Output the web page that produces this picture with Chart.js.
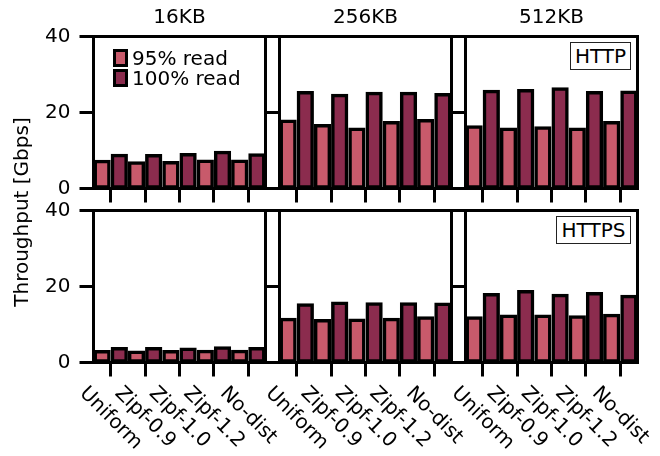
<!DOCTYPE html>
<html>
<head>
<meta charset="utf-8">
<script src="https://cdn.jsdelivr.net/npm/chart.js@4/dist/chart.umd.min.js"></script>
<style>
  html, body { margin: 0; padding: 0; background: #fff; }
  #fig { position: relative; width: 660px; height: 456px; overflow: hidden;
         font-family: "DejaVu Sans", sans-serif; color: #000; }
  #fig canvas { position: absolute; left: 0; top: 0; }
  .txt { position: absolute; font-size: 20px; line-height: 20px; white-space: nowrap; }
  .swatch { position: absolute; width: 9px; height: 12px; border: 3px solid #000; }
  .tag { position: absolute; box-sizing: border-box; height: 28px; border: 1px solid #222;
         font-size: 20px; line-height: 26px; text-align: center; background: #fff; }
  #ytitle { position: absolute; width: 300px; text-align: center; font-size: 20px; line-height: 20px;
            transform: rotate(-90deg); transform-origin: 50% 50%; }
</style>
</head>
<body>
<div id="fig"></div>
<script>
// ---- data ----
const categories = ['Uniform', 'Zipf-0.9', 'Zipf-1.0', 'Zipf-1.2', 'No-dist'];
const objectSizes = ['16KB', '256KB', '512KB'];
const protocols = ['HTTP', 'HTTPS'];
const seriesNames = ['95% read', '100% read'];
const yTickValues = [0, 20, 40];

// throughput in Gbps, HTTP
const http16Read95  = [7.1, 6.7, 6.8, 7.2, 7.2];
const http16Read100 = [8.7, 8.6, 8.9, 9.5, 8.8];
const http256Read95  = [17.7, 16.5, 15.6, 17.3, 17.8];
const http256Read100 = [25.2, 24.5, 25.0, 25.0, 24.7];
const http512Read95  = [16.2, 15.6, 15.9, 15.6, 17.3];
const http512Read100 = [25.5, 25.7, 26.2, 25.2, 25.3];

// throughput in Gbps, HTTPS
const https16Read95  = [2.8, 2.7, 2.8, 2.9, 2.9];
const https16Read100 = [3.6, 3.6, 3.5, 3.8, 3.6];
const https256Read95  = [11.3, 11.0, 11.1, 11.3, 11.7];
const https256Read100 = [15.1, 15.6, 15.4, 15.4, 15.3];
const https512Read95  = [11.7, 12.2, 12.2, 12.0, 12.4];
const https512Read100 = [17.8, 18.6, 17.6, 18.1, 17.4];

// ---- styling / layout ----
const FONT = '"DejaVu Sans"';
const seriesColors = ['#c85a6b', '#8b2c4e'];
const W = 660, H = 456;
const colLeft = [93.5, 279.5, 465.5];
const rowTop = [36.5, 210.5];
const panelW = 172, panelH = 152;
const TICK = 14;
const EDGE = 3.5;

const fig = document.getElementById('fig');

// black frame around each panel, drawn over the bars
const framePlugin = {
  id: 'panelFrame',
  afterDatasetsDraw(chart) {
    const { left, top, width, height } = chart.chartArea;
    const ctx = chart.ctx;
    ctx.save();
    ctx.lineWidth = 3;
    ctx.strokeStyle = '#000';
    ctx.strokeRect(left, top, width, height);
    ctx.restore();
  }
};

// category labels slanted 45 degrees downwards, centred under each tick
const slantedLabels = {
  id: 'slantedLabels',
  afterDraw(chart) {
    const xs = chart.scales.x;
    const ctx = chart.ctx;
    ctx.save();
    ctx.font = '20px ' + FONT;
    ctx.fillStyle = '#000';
    ctx.textAlign = 'center';
    ctx.textBaseline = 'middle';
    const top = chart.chartArea.bottom + 19.5;
    const boxH = 20 * 1.164;
    xs.getLabels().forEach((txt, i) => {
      const x = xs.getPixelForTick(i);
      const w = ctx.measureText(txt).width;
      const cy = top + (w + boxH) * Math.SQRT1_2 / 2;
      ctx.save();
      ctx.translate(x, cy);
      ctx.rotate(Math.PI / 4);
      ctx.fillText(txt, 0, 0);
      ctx.restore();
    });
    ctx.restore();
  }
};

function barSet(label, values, color) {
  return {
    label, data: values,
    backgroundColor: color,
    borderColor: '#000',
    borderWidth: EDGE,
    borderSkipped: false,
    inflateAmount: EDGE / 2,
    barPercentage: 0.8,
    categoryPercentage: 1.0,
    clip: false
  };
}

function makePanel(row, col, read95, read100) {
  const canvas = document.createElement('canvas');
  canvas.width = W; canvas.height = H;
  fig.appendChild(canvas);
  const L = colLeft[col], R = L + panelW, T = rowTop[row], B = T + panelH;
  const yW = col === 0 ? L : TICK;
  const xH = TICK;
  const withTitle = row === 0;
  const plugins = [framePlugin];
  if (row === 1) plugins.push(slantedLabels);

  new Chart(canvas, {
    type: 'bar',
    data: {
      labels: categories,
      datasets: [barSet(seriesNames[0], read95, seriesColors[0]),
                 barSet(seriesNames[1], read100, seriesColors[1])]
    },
    options: {
      responsive: false,
      animation: false,
      events: [],
      layout: { padding: { left: L - yW, right: W - R, top: withTitle ? 0 : T, bottom: H - B - xH } },
      plugins: {
        legend: { display: false },
        tooltip: { enabled: false },
        title: {
          display: withTitle,
          text: objectSizes[col],
          fullSize: false,
          color: '#000',
          font: { family: FONT, size: 20, weight: 'normal', lineHeight: 1.2 },
          padding: { top: 6, bottom: T - 30 }
        }
      },
      scales: {
        x: {
          offset: true,
          grid: { offset: false, drawOnChartArea: false, drawTicks: true, tickLength: TICK,
                  lineWidth: 3, color: '#000' },
          border: { display: false },
          ticks: { display: false },
          afterFit: s => { s.height = xH; }
        },
        y: {
          min: 0, max: 40,
          afterBuildTicks: s => { s.ticks = yTickValues.map(v => ({ value: v })); },
          grid: { drawOnChartArea: false, drawTicks: true, tickLength: TICK, lineWidth: 3, color: '#000' },
          border: { display: false },
          ticks: { display: col === 0, padding: 9, color: '#000',
                   font: { family: FONT, size: 20 } },
          afterFit: s => { s.width = yW; }
        }
      }
    },
    plugins
  });
}

makePanel(0, 0, http16Read95, http16Read100);
makePanel(0, 1, http256Read95, http256Read100);
makePanel(0, 2, http512Read95, http512Read100);
makePanel(1, 0, https16Read95, https16Read100);
makePanel(1, 1, https256Read95, https256Read100);
makePanel(1, 2, https512Read95, https512Read100);

// legend inside the first panel
const legendTops = [49, 68.5];
seriesNames.forEach((name, i) => {
  const sw = document.createElement('div');
  sw.className = 'swatch';
  sw.style.left = '113px';
  sw.style.top = legendTops[i] + 'px';
  sw.style.background = seriesColors[i];
  fig.appendChild(sw);
  const t = document.createElement('div');
  t.className = 'txt';
  t.style.left = '132px';
  t.style.top = (legendTops[i] - 1) + 'px';
  t.textContent = name;
  fig.appendChild(t);
});

// protocol tags at the top right of each row
const tagBoxes = [{ left: 570, top: 42, width: 61 }, { left: 556, top: 216, width: 75 }];
protocols.forEach((p, i) => {
  const d = document.createElement('div');
  d.className = 'tag';
  d.style.left = tagBoxes[i].left + 'px';
  d.style.top = tagBoxes[i].top + 'px';
  d.style.width = tagBoxes[i].width + 'px';
  d.textContent = p;
  fig.appendChild(d);
});

// shared y-axis title
const yt = document.createElement('div');
yt.id = 'ytitle';
yt.textContent = 'Throughput [Gbps]';
yt.style.left = (21 - 150) + 'px';
yt.style.top = (211.5 - 10) + 'px';
fig.appendChild(yt);
</script>
</body>
</html>
